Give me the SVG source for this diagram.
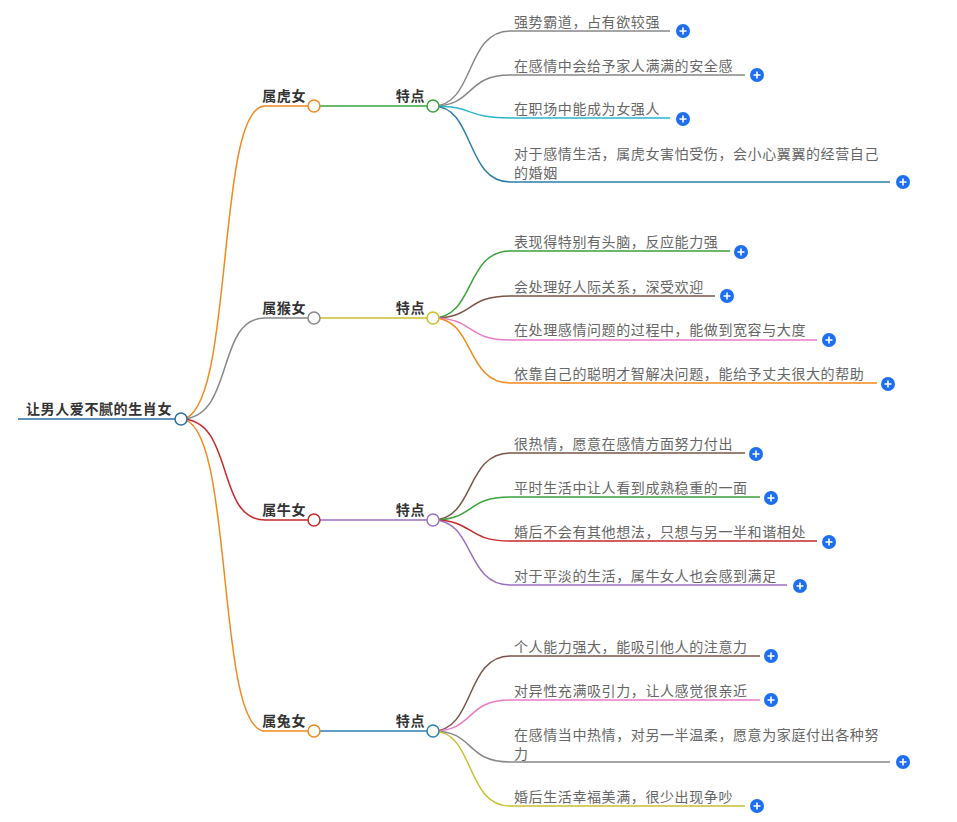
<svg xmlns="http://www.w3.org/2000/svg" width="957" height="822" viewBox="0 0 957 822">
<style>
text{font-family:"Noto Sans CJK SC","Liberation Sans",sans-serif;font-size:14px;letter-spacing:0.6px}
.b{font-weight:bold;fill:#333}
.l{fill:#666}
path{fill:none;stroke-width:1.5}
.n{fill:#fff;stroke-width:1.5}
.p{fill:#1e6ff0}
.pl{stroke:#fff;stroke-width:1.6}
</style>
<g id="connectors">
<path d="M18 419 L181 419" stroke="#2c6fa6" stroke-width="4"/>
<path d="M181 419 C235 419 215 106 265 106 L314 106" stroke="#f08a1d" stroke-width="2"/>
<path d="M181 419 C235 419 215 318 265 318 L314 318" stroke="#888" stroke-width="2"/>
<path d="M181 419 C235 419 215 520 265 520 L314 520" stroke="#c8282a" stroke-width="2"/>
<path d="M181 419 C235 419 215 731 265 731 L314 731" stroke="#f08a1d" stroke-width="2"/>
<path d="M314 106 L433 106" stroke="#3aa33a"/>
<path d="M314 318 L433 318" stroke="#c8c030"/>
<path d="M314 520 L433 520" stroke="#9a70c0"/>
<path d="M314 731 L433 731" stroke="#2c7fb8"/>
<path d="M433 106 C475 106 465 31 510 31 L670 31" stroke="#888"/>
<path d="M433 106 C475 106 465 75 510 75 L745 75" stroke="#888"/>
<path d="M433 106 C475 106 465 118 510 118 L670 118" stroke="#2bb5c8"/>
<path d="M433 106 C475 106 465 182 510 182 L890 182" stroke="#2e7ea8"/>
<path d="M433 318 C475 318 465 251 510 251 L730 251" stroke="#3aa33a"/>
<path d="M433 318 C475 318 465 296 510 296 L715 296" stroke="#7a5548"/>
<path d="M433 318 C475 318 465 340 510 340 L817 340" stroke="#e87cc8"/>
<path d="M433 318 C475 318 465 383 510 383 L877 383" stroke="#f08a1d"/>
<path d="M433 520 C475 520 465 453 510 453 L745 453" stroke="#7a5548"/>
<path d="M433 520 C475 520 465 497 510 497 L760 497" stroke="#3aa33a"/>
<path d="M433 520 C475 520 465 541 510 541 L817 541" stroke="#c8282a"/>
<path d="M433 520 C475 520 465 585 510 585 L787 585" stroke="#9a70c0"/>
<path d="M433 731 C475 731 465 656 510 656 L760 656" stroke="#7a5548"/>
<path d="M433 731 C475 731 465 700 510 700 L760 700" stroke="#e87cc8"/>
<path d="M433 731 C475 731 465 762 510 762 L890 762" stroke="#888"/>
<path d="M433 731 C475 731 465 806 510 806 L745 806" stroke="#c8c030"/>
</g>
<g id="root"><text class="b" x="26" y="414">让男人爱不腻的生肖女</text><circle class="n" cx="181" cy="419" r="6" stroke="#2c6fa6"/></g>
<g id="n1"><text class="b" x="306" y="101" text-anchor="end">属虎女</text><circle class="n" cx="314" cy="106" r="6" stroke="#f08a1d"/></g>
<g id="n2"><text class="b" x="306" y="313" text-anchor="end">属猴女</text><circle class="n" cx="314" cy="318" r="6" stroke="#888"/></g>
<g id="n3"><text class="b" x="306" y="515" text-anchor="end">属牛女</text><circle class="n" cx="314" cy="520" r="6" stroke="#c8282a"/></g>
<g id="n4"><text class="b" x="306" y="726" text-anchor="end">属兔女</text><circle class="n" cx="314" cy="731" r="6" stroke="#f08a1d"/></g>
<g id="t1"><text class="b" x="425" y="101" text-anchor="end">特点</text><circle class="n" cx="433" cy="106" r="6" stroke="#3aa33a"/></g>
<g id="t2"><text class="b" x="425" y="313" text-anchor="end">特点</text><circle class="n" cx="433" cy="318" r="6" stroke="#c8c030"/></g>
<g id="t3"><text class="b" x="425" y="515" text-anchor="end">特点</text><circle class="n" cx="433" cy="520" r="6" stroke="#9a70c0"/></g>
<g id="t4"><text class="b" x="425" y="726" text-anchor="end">特点</text><circle class="n" cx="433" cy="731" r="6" stroke="#2c7fb8"/></g>
<defs><g id="plus"><circle class="p" r="7"/><path class="pl" d="M-3.5 0H3.5M0 -3.5V3.5"/></g></defs>
<g id="leaves">
<text class="l" x="514" y="27">强势霸道，占有欲较强</text><use href="#plus" x="683" y="31"/>
<text class="l" x="514" y="71">在感情中会给予家人满满的安全感</text><use href="#plus" x="757" y="75"/>
<text class="l" x="514" y="114">在职场中能成为女强人</text><use href="#plus" x="683" y="119"/>
<text class="l" x="514" y="159">对于感情生活，属虎女害怕受伤，会小心翼翼的经营自己</text><text class="l" x="514" y="178">的婚姻</text><use href="#plus" x="903" y="182"/>
<text class="l" x="514" y="247">表现得特别有头脑，反应能力强</text><use href="#plus" x="741" y="252"/>
<text class="l" x="514" y="292">会处理好人际关系，深受欢迎</text><use href="#plus" x="727" y="296"/>
<text class="l" x="514" y="335">在处理感情问题的过程中，能做到宽容与大度</text><use href="#plus" x="829" y="340"/>
<text class="l" x="514" y="379">依靠自己的聪明才智解决问题，能给予丈夫很大的帮助</text><use href="#plus" x="888" y="384"/>
<text class="l" x="514" y="449">很热情，愿意在感情方面努力付出</text><use href="#plus" x="756" y="454"/>
<text class="l" x="514" y="493">平时生活中让人看到成熟稳重的一面</text><use href="#plus" x="771" y="498"/>
<text class="l" x="514" y="537">婚后不会有其他想法，只想与另一半和谐相处</text><use href="#plus" x="829" y="542"/>
<text class="l" x="514" y="581">对于平淡的生活，属牛女人也会感到满足</text><use href="#plus" x="800" y="586"/>
<text class="l" x="514" y="652">个人能力强大，能吸引他人的注意力</text><use href="#plus" x="771" y="656"/>
<text class="l" x="514" y="696">对异性充满吸引力，让人感觉很亲近</text><use href="#plus" x="771" y="700"/>
<text class="l" x="514" y="740">在感情当中热情，对另一半温柔，愿意为家庭付出各种努</text><text class="l" x="514" y="759">力</text><use href="#plus" x="903" y="762"/>
<text class="l" x="514" y="802">婚后生活幸福美满，很少出现争吵</text><use href="#plus" x="757" y="806"/>
</g>
</svg>
